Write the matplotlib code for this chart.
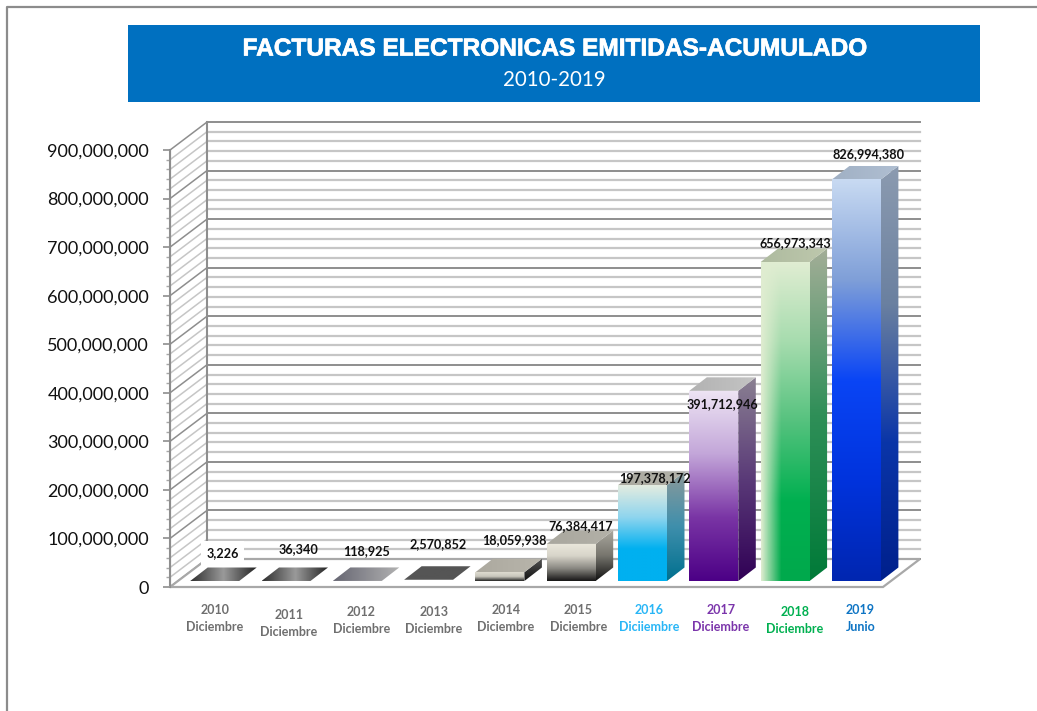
import numpy as np
import matplotlib
matplotlib.use('Agg')
import matplotlib.pyplot as plt
import matplotlib.patheffects as pe
from matplotlib.colors import LinearSegmentedColormap
from matplotlib.patches import Polygon, Rectangle
from matplotlib.ticker import FuncFormatter, FixedLocator

years = ['2010', '2011', '2012', '2013', '2014', '2015', '2016', '2017', '2018', '2019']
months = ['Diciembre'] * 6 + ['Diciiembre', 'Diciembre', 'Diciembre', 'Junio']
values = [3226, 36340, 118925, 2570852, 18059938, 76384417,
          197378172, 391712946, 656973343, 826994380]

label_colors = ['#6f6f6f'] * 6 + ['#29b6f6', '#7b35ab', '#00b050', '#0f75c4']
# corrimiento de las etiquetas a mano, como en el original (pixeles)
cat_shift = [(0, 0), (3, 5), (4, 2), (5, 2), (6, 0), (7, 0), (7, 0), (7, 0), (10, 2), (4, 0)]
val_dx = [8, 12, 9, 10, 15, 9, 12, 9, 10, 12]
val_py = [553, 549, 551, 544, 540, 526, 478, 404, 243, 154]

# colores: tapa, frente y lateral
top_colors = [['#2e2e2e', '#9a9a9a', '#222222'], ['#2e2e2e', '#9a9a9a', '#222222'],
              ['#666672', '#b2b2b2'], ['#555555', '#555555'],
              ['#aca99f', '#b8b5ab'], ['#a9a79e', '#b3b1a8'],
              ['#aaa99f', '#b1b1a8'], ['#b2b2b2', '#c4c4c4'],
              ['#aebb9f', '#bec8ad'], ['#a0b0c4', '#b0bfd2']]
front_colors = [['#555555', '#333333'], ['#555555', '#333333'],
                ['#777777', '#555555'], ['#4a4a4a', '#333333'],
                ['#dedbd0', '#c8c6bc', '#222222'], ['#ebe8dc', '#d8d5ca', '#8a8882', '#161616'],
                ['#e4ece0', '#8fd5ee', '#00b0f0', '#00b0f0'], ['#eee5f4', '#c3a6d9', '#7a35a5', '#4c0086'],
                ['#e0edd2', '#a6dcae', '#55c27e', '#00b050', '#00a94c'],
                ['#c8daf2', '#7f9fd8', '#0a45f5', '#0033dd', '#0026b0']]
side_colors = [['#444444', '#222222'], ['#444444', '#222222'],
               ['#666666', '#444444'], ['#333333', '#222222'],
               ['#555555', '#111111'], ['#aaa89f', '#77756e', '#101010'],
               ['#8d9a9a', '#3f8fac', '#00708f'], ['#8a8092', '#5a3a78', '#300055'],
               ['#a4ae98', '#2f8f58', '#007a38'], ['#8c9bb0', '#6a80a0', '#0a35a8', '#00208c']]

PX_CAT = 71.3
PX_VAL = 48.55 / 100e6
X0_PX, Y0_PX = 214.7, 587
BAR_W = 0.687
DEPTH_X, DEPTH_Y = 17.5 / PX_CAT, 13.5 / PX_VAL
WALL_X, WALL_Y = 37 / PX_CAT, 28 / PX_VAL
BAR_BASE = 6 / PX_VAL


def px_x(px):
    return (px - X0_PX) / PX_CAT


def px_y(py):
    return (Y0_PX - py) / PX_VAL


def fill_gradient(ax, corners, colors, horizontal=False, z=3):
    # rellena un poligono con un degradado (arriba-abajo o izq-der)
    cmap = LinearSegmentedColormap.from_list('g', colors)
    grad = np.linspace(0, 1, 256).reshape(-1, 1)
    if horizontal:
        grad = grad.T
    xs = [c[0] for c in corners]
    ys = [c[1] for c in corners]
    poly = Polygon(corners, closed=True, transform=ax.transData, fc='none', ec='none')
    ax.add_patch(poly)
    im = ax.imshow(grad, cmap=cmap, aspect='auto', origin='upper', zorder=z,
                   extent=(min(xs), max(xs), min(ys), max(ys)), interpolation='bilinear')
    im.set_clip_path(poly)
    return im


fig = plt.figure(figsize=(10.37, 7.11), dpi=100)
ax = fig.add_axes([0, 0, 1, 1])
ax.patch.set_facecolor('white')

left, right = px_x(170), px_x(883)
top_val = 900e6

# marco exterior
ax.plot([px_x(7), px_x(7), px_x(1037)], [px_y(711), px_y(7), px_y(7)], color='#8c8c8c', lw=1.6, zorder=1)

# banner del titulo
ax.add_patch(Rectangle((px_x(128), px_y(102)), px_x(980) - px_x(128), px_y(25) - px_y(102),
                       fc='#0070c0', ec='none', zorder=2))
title = ax.text(px_x(554), px_y(49), 'FACTURAS ELECTRONICAS EMITIDAS-ACUMULADO', color='white',
                family='Liberation Sans', weight='bold', fontsize=17.6, ha='center', va='center', zorder=3)
title.set_path_effects([pe.withStroke(linewidth=0.5, foreground='white')])
ax.text(px_x(554), px_y(80), '2010-2019', color='white', family='Lato', fontsize=14.8,
        ha='center', va='center', zorder=3)

# paredes y piso 3D
grid_vals = np.arange(0, top_val + 1, 20e6)
for v in grid_vals:
    major = v % 100e6 == 0
    col = '#8e8e8e' if major else '#c6c6c6'
    lw = 1.4 if major else 1.6
    ax.plot([left + WALL_X, right + WALL_X], [v + WALL_Y, v + WALL_Y], color=col, lw=lw, zorder=1.5)
    ax.plot([left, left + WALL_X], [v, v + WALL_Y], color=col, lw=1.1, zorder=1.5)
ax.plot([left + WALL_X] * 2, [WALL_Y, top_val + WALL_Y], color='#8e8e8e', lw=1.5, zorder=1.6)
ax.plot([left, left], [0, top_val], color='#8e8e8e', lw=1.5, zorder=1.6)
ax.add_patch(Polygon([(left, 0), (right, 0), (right + WALL_X, WALL_Y), (left + WALL_X, WALL_Y)],
                     closed=True, fc='white', ec='#a8a8a8', lw=1.6, zorder=1.7))

# barras
for i, v in enumerate(values):
    x1, x2 = i - BAR_W / 2, i + BAR_W / 2
    y1, y2 = BAR_BASE, BAR_BASE + v
    if v > 1e7:
        fill_gradient(ax, [(x2, y1), (x2 + DEPTH_X, y1 + DEPTH_Y), (x2 + DEPTH_X, y2 + DEPTH_Y), (x2, y2)],
                      side_colors[i])
        fill_gradient(ax, [(x1, y1), (x2, y1), (x2, y2), (x1, y2)], front_colors[i])
    if years[i] == '2018':
        # brillo claro sobre el borde izquierdo
        glow = np.ones((1, 64, 4))
        glow[..., :3] = [0.88, 0.93, 0.82]
        glow[..., 3] = np.clip(1 - np.linspace(0, 1, 64) * 2.4, 0, 1)
        ax.imshow(glow, aspect='auto', extent=(x1, x2, y1, y2), zorder=3.1, interpolation='bilinear')
    fill_gradient(ax, [(x1, y2), (x2, y2), (x2 + DEPTH_X, y2 + DEPTH_Y), (x1 + DEPTH_X, y2 + DEPTH_Y)],
                  top_colors[i], horizontal=True)

# etiquetas de valores
for i, v in enumerate(values):
    box = dict(fc='white', ec='none', pad=4) if i == 0 else None
    ax.text(i + val_dx[i] / PX_CAT, px_y(val_py[i]), f'{v:,}', family='Lato', weight='bold', fontsize=9.1,
            color='#111111', ha='center', va='center', zorder=5, bbox=box)

# etiquetas de categorias
for i, (yr, mes) in enumerate(zip(years, months)):
    dx, dy = cat_shift[i]
    ax.text(i + dx / PX_CAT, px_y(610 + dy), yr, family='Lato', weight='bold', fontsize=9.0,
            color=label_colors[i], ha='center', va='center', zorder=5)
    ax.text(i + dx / PX_CAT, px_y(627 + dy), mes, family='Lato', weight='bold', fontsize=9.0,
            color=label_colors[i], ha='center', va='center', zorder=5)

# eje de valores
for s in ['top', 'right', 'bottom']:
    ax.spines[s].set_visible(False)
ax.spines['left'].set_position(('data', left))
ax.spines['left'].set_bounds(0, top_val)
ax.spines['left'].set_color('#8e8e8e')
ax.set_xticks([])
ax.yaxis.set_major_locator(FixedLocator(np.arange(0, top_val + 1, 100e6)))
ax.yaxis.set_minor_locator(FixedLocator(grid_vals))
ax.yaxis.set_major_formatter(FuncFormatter(lambda v, p: f'{int(v):,}'))
ax.tick_params(axis='y', which='major', length=5, width=1.2, color='#8e8e8e', pad=10, labelsize=13)
ax.tick_params(axis='y', which='minor', length=3, width=1.0, color='#a8a8a8')
for lab in ax.get_yticklabels():
    lab.set_family('Lato')
    lab.set_color('#111111')

ax.set_xlim(px_x(0), px_x(1037))
ax.set_ylim(px_y(711), px_y(0))

fig.savefig('out.png', dpi=100)
plt.close(fig)
